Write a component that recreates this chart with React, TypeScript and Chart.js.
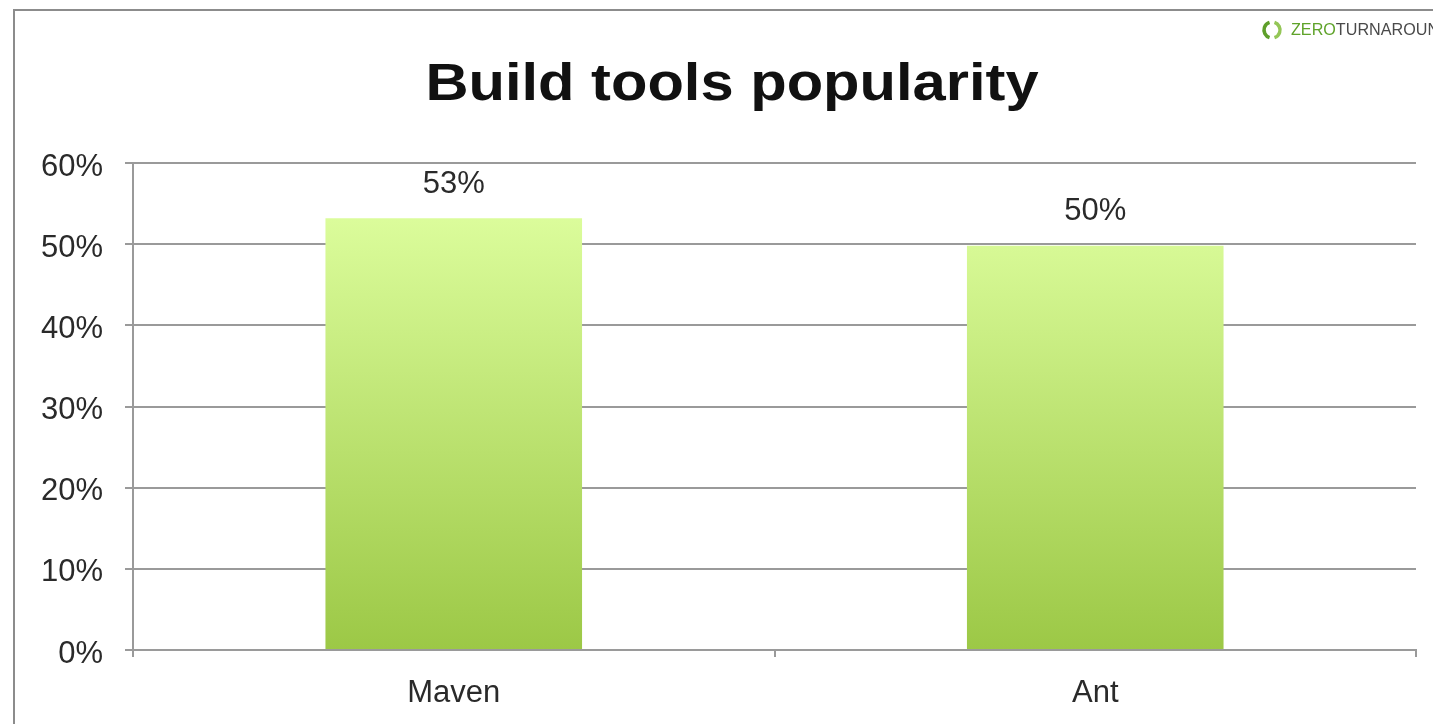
import React, { useEffect, useRef } from "react";
import { Chart, registerables } from "chart.js";

Chart.register(...registerables);

const categories = ["Maven", "Ant"];
const popularity = [53.2, 49.8];
const yTicks = [0, 10, 20, 30, 40, 50, 60];
const titleText = "Build tools popularity";
const logoGreen = "ZERO";
const logoGray = "TURNAROUND";

const FONT = "'Liberation Sans', Arial, Helvetica, sans-serif";

const decorPlugin = {
  id: "decor",
  beforeDraw(chart: any) {
    const ctx = chart.ctx;
    ctx.save();
    ctx.fillStyle = "#ffffff";
    ctx.fillRect(0, 0, chart.width, chart.height);
    // frame
    ctx.strokeStyle = "#8c8c8c";
    ctx.lineWidth = 2;
    ctx.beginPath();
    ctx.moveTo(14, chart.height);
    ctx.lineTo(14, 10);
    ctx.lineTo(chart.width, 10);
    ctx.stroke();
    // title (slightly widened like the reference)
    ctx.save();
    ctx.translate(732, 100);
    ctx.scale(1.17, 1);
    ctx.fillStyle = "#111111";
    ctx.font = `bold 51px ${FONT}`;
    ctx.textAlign = "center";
    ctx.textBaseline = "alphabetic";
    ctx.fillText(titleText, 0, 0);
    ctx.restore();
    // logo
    ctx.lineWidth = 3.5;
    ctx.strokeStyle = "#5e9f2a";
    ctx.beginPath();
    ctx.arc(1272, 30, 8, Math.PI * 0.6, Math.PI * 1.4);
    ctx.stroke();
    ctx.strokeStyle = "#94c657";
    ctx.beginPath();
    ctx.arc(1272, 30, 8, Math.PI * 1.6, Math.PI * 2.4);
    ctx.stroke();
    ctx.save();
    ctx.translate(1291, 30);
    ctx.scale(0.95, 1);
    ctx.font = `17px ${FONT}`;
    ctx.textAlign = "left";
    ctx.textBaseline = "middle";
    ctx.fillStyle = "#5fa32a";
    ctx.fillText(logoGreen, 0, 0);
    const w = ctx.measureText(logoGreen).width;
    ctx.fillStyle = "#4a4a4a";
    ctx.fillText(logoGray, w, 0);
    ctx.restore();
    ctx.restore();
  },
  afterDatasetsDraw(chart: any) {
    const ctx = chart.ctx;
    const meta = chart.getDatasetMeta(0);
    ctx.save();
    ctx.fillStyle = "#2a2a2a";
    ctx.font = `31px ${FONT}`;
    ctx.textAlign = "center";
    ctx.textBaseline = "middle";
    meta.data.forEach((bar: any, i: number) => {
      const v = chart.data.datasets[0].data[i];
      ctx.fillText(`${Math.round(v)}%`, bar.x, bar.y - 34);
    });
    ctx.restore();
  },
};

export default function App() {
  const ref = useRef<HTMLCanvasElement | null>(null);

  useEffect(() => {
    if (!ref.current) return;
    const chart = new Chart(ref.current, {
      type: "bar",
      data: {
        labels: categories,
        datasets: [
          {
            data: popularity,
            backgroundColor: (c: any) => {
              const { chart: ch } = c;
              const area = ch.chartArea;
              if (!area) return "#b5dc6a";
              const g = ch.ctx.createLinearGradient(0, area.top + 50, 0, area.bottom);
              g.addColorStop(0, "#dcfd9c");
              g.addColorStop(1, "#9cc846");
              return g;
            },
            borderWidth: 0,
            categoryPercentage: 1,
            barPercentage: 0.4,
          },
        ],
      },
      options: {
        animation: false,
        responsive: false,
        maintainAspectRatio: false,
        layout: { padding: { left: 0, right: 17, top: 163, bottom: 0 } },
        plugins: {
          legend: { display: false },
          title: { display: false },
          tooltip: { enabled: false },
        },
        scales: {
          x: {
            offset: true,
            grid: {
              display: true,
              offset: true,
              drawOnChartArea: false,
              drawTicks: true,
              tickLength: 7,
              color: "#9a9a9a",
              lineWidth: 2,
            },
            border: { display: true, color: "#9a9a9a", width: 2 },
            ticks: {
              color: "#2a2a2a",
              font: { family: FONT, size: 31 },
              padding: 18,
            },
            afterFit: (s: any) => {
              s.height = 74;
            },
          },
          y: {
            min: 0,
            max: 60,
            afterBuildTicks: (s: any) => {
              s.ticks = yTicks.map((v) => ({ value: v }));
            },
            grid: {
              color: "#9a9a9a",
              lineWidth: 2,
              drawTicks: true,
              tickLength: 8,
            },
            border: { display: true, color: "#9a9a9a", width: 2 },
            ticks: {
              color: "#2a2a2a",
              font: { family: FONT, size: 31 },
              padding: 22,
              labelOffset: 4,
              callback: (v: any) => `${v}%`,
            },
            afterFit: (s: any) => {
              s.width = 133;
            },
          },
        },
      },
      plugins: [decorPlugin],
    });
    return () => chart.destroy();
  }, []);

  return (
    <div style={{ position: "fixed", left: 0, top: 0, width: 1433, height: 724, background: "#fff" }}>
      <canvas ref={ref} width={1433} height={724} style={{ display: "block", width: 1433, height: 724 }} />
    </div>
  );
}
